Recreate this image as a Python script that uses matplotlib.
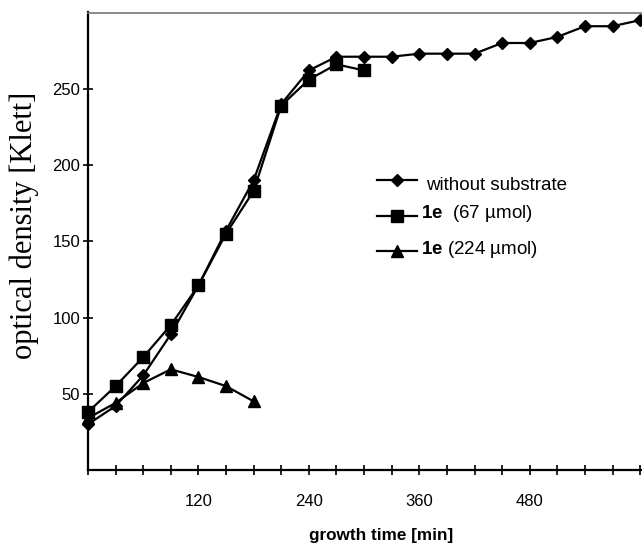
import matplotlib
matplotlib.use("Agg")
import matplotlib.pyplot as plt
from matplotlib.lines import Line2D

plt.rcParams['font.family'] = ['Liberation Sans', 'DejaVu Sans']
plt.rcParams['mathtext.fontset'] = 'custom'
plt.rcParams['mathtext.rm'] = 'Liberation Sans'
plt.rcParams['mathtext.bf'] = 'Liberation Sans:bold'

# time points (min)
t_without = [0, 30, 60, 90, 120, 150, 180, 210, 240, 270, 300, 330, 360, 390,
             420, 450, 480, 510, 540, 570, 600]
od_without = [30, 42, 62, 89, 121, 157, 190, 240, 262, 271, 271, 271, 273, 273,
              273, 280, 280, 284, 291, 291, 295]

t_67 = [0, 30, 60, 90, 120, 150, 180, 210, 240, 270, 300]
od_67 = [38, 55, 74, 95, 121, 155, 183, 239, 256, 266, 262]

t_224 = [0, 30, 60, 90, 120, 150, 180]
od_224 = [34, 44, 57, 66, 61, 55, 45]

labels = ["without substrate", r"$\mathbf{1e}$  (67 µmol)", r"$\mathbf{1e}$ (224 µmol)"]
yticks = [50, 100, 150, 200, 250]
xticks_major = [120, 240, 360, 480]
xticks_minor = list(range(0, 601, 30))

fig = plt.figure(figsize=(6.42, 5.46), dpi=100)
ax_l, ax_b, ax_t = 88, 470, 12.5
ax = fig.add_axes([ax_l/642, 1-ax_b/546, 1-ax_l/642, (ax_b-ax_t)/546])

lw = 1.6
ax.plot(t_without, od_without, color='black', lw=lw, marker='D', ms=6.5, clip_on=False, zorder=3)
ax.plot(t_67, od_67, color='black', lw=lw, marker='s', ms=8.5, clip_on=False, zorder=3)
ax.plot(t_224, od_224, color='black', lw=lw, marker='^', ms=8, clip_on=False, zorder=3)

ax.set_xlim(0, 602)
ax.set_ylim(0, 300)

ax.set_yticks(yticks)
ax.set_yticklabels([str(v) for v in yticks], fontsize=12)
ax.set_xticks(xticks_minor)
ax.set_xticklabels(['' if v not in xticks_major else str(v) for v in xticks_minor], fontsize=12)
ax.tick_params(axis='both', direction='inout', length=7, width=1.2, color='black')
ax.tick_params(axis='x', pad=14)
ax.tick_params(axis='y', pad=2)

ax.spines['right'].set_visible(False)
ax.spines['top'].set_color('#777777')
ax.spines['top'].set_linewidth(1.2)
ax.spines['left'].set_linewidth(1.6)
ax.spines['bottom'].set_linewidth(1.6)

fig.text(24/642, 1-225/546, "optical density [Klett]", rotation=90, ha='center', va='center',
         family=['Liberation Serif'], fontsize=22)
fig.text(381/642, 1-540/546, "growth time [min]", ha='center', va='baseline',
         fontsize=12.3, fontweight='bold')

# legend drawn manually in axes coordinates
line_y_px = [180, 216, 251]
text_y_px = [185, 213, 249]
text_x_px = [426, 421, 421]
markers = ['D', 's', '^']
msizes = [6.5, 8.5, 8]
x0_px, x1_px = 377, 417
ax_w = 642 - ax_l
ax_h = ax_b - ax_t
for ly, ty, tx, m, ms, lab in zip(line_y_px, text_y_px, text_x_px, markers, msizes, labels):
    ya = (ax_b - ly) / ax_h
    xa0 = (x0_px - ax_l) / ax_w
    xa1 = (x1_px - ax_l) / ax_w
    ax.add_line(Line2D([xa0, xa1], [ya, ya], transform=ax.transAxes, color='black', lw=lw))
    ax.add_line(Line2D([(xa0 + xa1) / 2], [ya], transform=ax.transAxes, color='black',
                       marker=m, ms=ms, lw=0))
    ax.text((tx - ax_l) / ax_w, (ax_b - ty) / ax_h, lab, transform=ax.transAxes,
            va='center', ha='left', fontsize=13.5)

fig.savefig("out.png", dpi=100)
